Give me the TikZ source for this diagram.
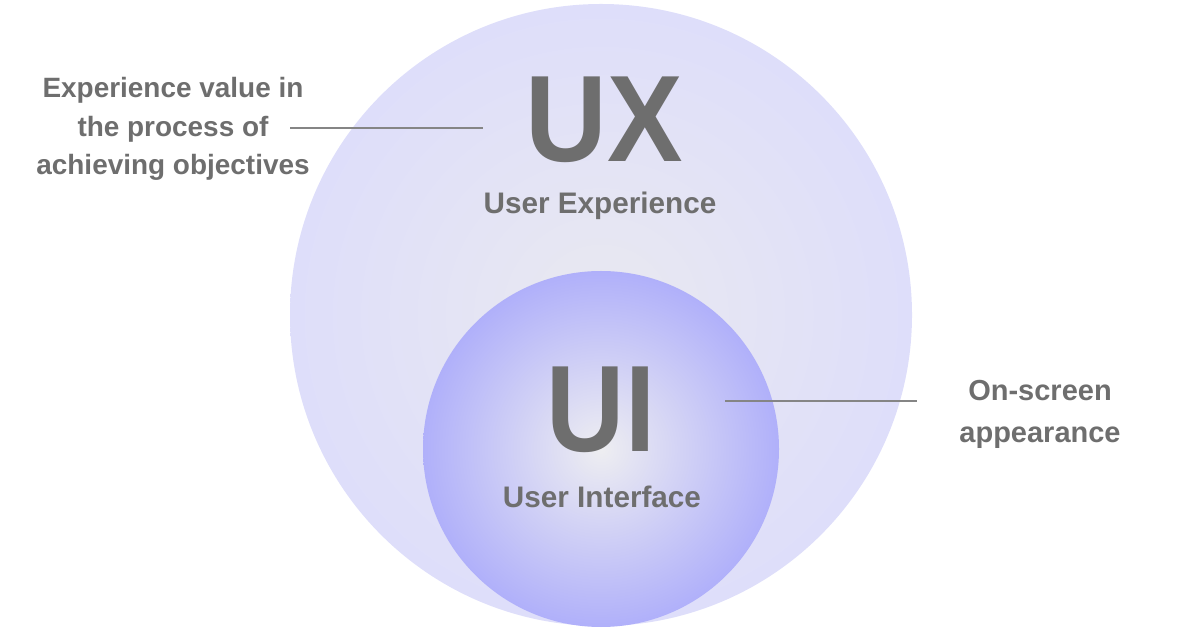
\documentclass[tikz,border=0pt]{standalone}
\usepackage{fontspec}
\setmainfont{Liberation Sans}
\usepackage{xcolor}
\usepackage{tikz}
\usetikzlibrary{positioning, shapes, calc}

\definecolor{uxedge}{HTML}{DEDEFA}
\definecolor{uxcentre}{HTML}{E9E9F0}
\definecolor{uiedge}{HTML}{B0B0FA}
\definecolor{uicentre}{HTML}{EEEEF1}
\definecolor{labelgrey}{HTML}{6E6E6E}
\definecolor{leadgrey}{HTML}{858585}

\tikzset{
	disc/.style={circle, inner sep=0pt, minimum size=#1, shading=radial},
	bigtag/.style={text=labelgrey, font=\fontsize{70}{70}\selectfont\bfseries, inner sep=0pt, anchor=base},
	subtag/.style={text=labelgrey, font=\fontsize{16.9}{20}\selectfont\bfseries, inner sep=0pt, anchor=base},
	note/.style={text=labelgrey, font=\fontsize{15.9}{22.1}\selectfont\bfseries, inner sep=0pt, align=center},
	lead/.style={draw=leadgrey, line width=0.6pt}
}

\begin{document}
\begin{tikzpicture}
		
		\useasboundingbox (0,0) rectangle (24,12.56);
		
		% the two circles
		\node[disc=12.44cm, inner color=uxcentre, outer color=uxedge] (uxdisc) at (12.02,6.26) {};
		\node[disc=7.12cm, inner color=uicentre, outer color=uiedge] (uidisc) at (12.02,3.58) {};
		
		\node[bigtag] (ux) at (12.08,9.32) {\scalebox{0.92}[1]{UX}};
		\node[subtag] (uxsub) at (12.0,8.28) {User Experience};
		
		\node[bigtag] (ui) at (12.02,3.52) {\scalebox{0.88}[1]{UI}};
		\node[subtag] (uisub) at (12.04,2.42) {User Interface};
		
		% side notes
		\node[note] (uxnote) at (3.46,9.98) {Experience value in\\the process of\\achieving objectives};
		\node[note, font=\fontsize{16.5}{23.9}\selectfont\bfseries] (uinote) at (20.8,4.27) {On-screen\\appearance};
		
		\coordinate (uxleadstart) at (5.8,10.0);
		\coordinate (uxleadend) at (9.66,10.0);
		\coordinate (uileadstart) at (14.5,4.54);
		\coordinate (uileadend) at (18.34,4.54);
		
		\draw[lead] (uxleadstart) -- (uxleadend);
		\draw[lead] (uileadstart) -- (uileadend);
		
\end{tikzpicture}
\end{document}
